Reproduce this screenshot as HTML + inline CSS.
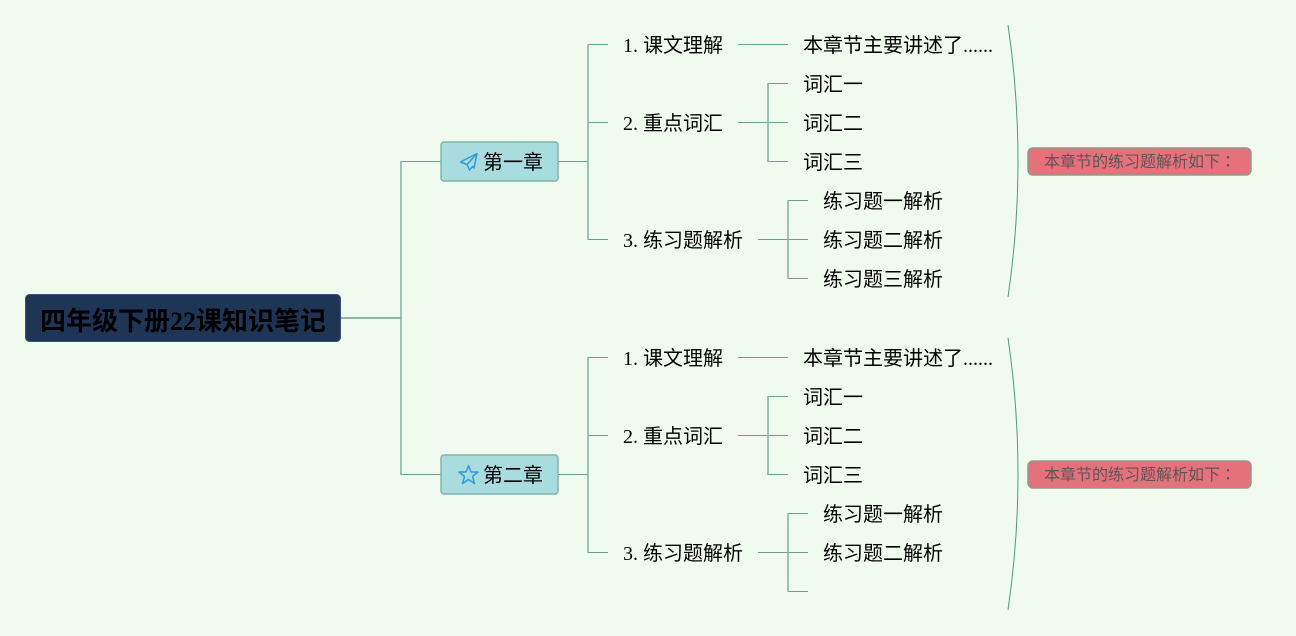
<!DOCTYPE html>
<html><head><meta charset="utf-8">
<style>
html,body{margin:0;padding:0;background:#f0faef;width:1296px;height:636px;overflow:hidden}
svg{display:block;filter:blur(0.3px)}
text{font-family:"Liberation Serif","WenQuanYi Zen Hei","Noto Sans CJK SC",serif;font-size:20px;fill:#000}
.h{fill:none;stroke:#689f8f;stroke-width:1}
.v{fill:none;stroke:#86b5a6;stroke-width:1.6}
.b{fill:none;stroke:#4f9a80;stroke-width:1}
.n{font-size:16px;fill:#5f5558}
.cl{font-family:"Noto Sans CJK TC",sans-serif}
</style></head><body>
<svg width="1296" height="636" viewBox="0 0 1296 636" xmlns="http://www.w3.org/2000/svg">
<rect width="1296" height="636" fill="#f0faef"/>
<path class="h" d="M341 318H401" style="stroke-width:1.800;stroke:#7fab9d"/>
<path class="h" d="M401 161.500H441M401 474.500H441"/>
<path class="v" d="M401 161V475"/>
<rect x="25.500" y="294.500" width="315" height="47" rx="4" fill="#1f3556" stroke="#3a5078"/>
<text x="40" y="330" style="font-size:26px;font-weight:bold">四年级下册22课知识笔记</text>

<!-- Chapter 1 -->
<g>
<path class="h" d="M558 161.500H588M588 44.500H608M588 122.500H608M588 239.500H608"/>
<path class="v" d="M588 44V240"/>
<path class="h" d="M738 44.500H788M738 122.500H788M768 83.500H788M768 161.500H788M758 239.500H808M788 200.500H808M788 278.500H808"/>
<path class="v" d="M768 83V162M788 200V279"/>
<rect x="441" y="142" width="117" height="39" rx="3" fill="#a8dcdf" stroke="#7fb5ad" stroke-width="1.500"/>
<path d="M477 153.500L460.500 162L467 164.500L469.500 170L472.500 166.500L474 168ZM477 153.500L467 164.500" fill="none" stroke="#2f9bd8" stroke-width="1.500" stroke-linejoin="round"/>
<text x="483" y="169">第一章</text>
<text x="623" y="52">1. 课文理解</text>
<text x="623" y="130">2. 重点词汇</text>
<text x="623" y="247">3. 练习题解析</text>
<text x="803" y="52">本章节主要讲述了......</text>
<text x="803" y="91">词汇一</text>
<text x="803" y="130">词汇二</text>
<text x="803" y="169">词汇三</text>
<text x="823" y="208">练习题一解析</text>
<text x="823" y="247">练习题二解析</text>
<text x="823" y="286">练习题三解析</text>
<path class="b" d="M1008 25Q1028 161 1008 297"/>
<rect x="1028" y="148" width="223" height="27" rx="5" fill="#e5727a" stroke="#8f9a90" stroke-width="1.500"/>
<text x="1044" y="167" class="n">本章节的练习题解析如下<tspan class="cl">：</tspan></text>
</g>

<!-- Chapter 2 -->
<g>
<path class="h" d="M558 474.500H588M588 357.500H608M588 435.500H608M588 552.500H608"/>
<path class="v" d="M588 357V553"/>
<path class="h" d="M738 357.500H788M738 435.500H788M768 396.500H788M768 474.500H788M758 552.500H808M788 513.500H808M788 591.500H808"/>
<path class="v" d="M768 396V475M788 513V592"/>
<rect x="441" y="455" width="117" height="39" rx="3" fill="#a8dcdf" stroke="#7fb5ad" stroke-width="1.500"/>
<path d="M468.500 465.500L471 472H478L472.500 476.500L474.500 483.500L468.500 479.500L462.500 483.500L464.500 476.500L459 472H466Z" fill="none" stroke="#2f9bd8" stroke-width="1.500" stroke-linejoin="round"/>
<text x="483" y="482">第二章</text>
<text x="623" y="365">1. 课文理解</text>
<text x="623" y="443">2. 重点词汇</text>
<text x="623" y="560">3. 练习题解析</text>
<text x="803" y="365">本章节主要讲述了......</text>
<text x="803" y="404">词汇一</text>
<text x="803" y="443">词汇二</text>
<text x="803" y="482">词汇三</text>
<text x="823" y="521">练习题一解析</text>
<text x="823" y="560">练习题二解析</text>
<path class="b" d="M1008 338Q1028 474 1008 610"/>
<rect x="1028" y="461" width="223" height="27" rx="5" fill="#e5727a" stroke="#8f9a90" stroke-width="1.500"/>
<text x="1044" y="480" class="n">本章节的练习题解析如下<tspan class="cl">：</tspan></text>
</g>
</svg>
</body></html>
